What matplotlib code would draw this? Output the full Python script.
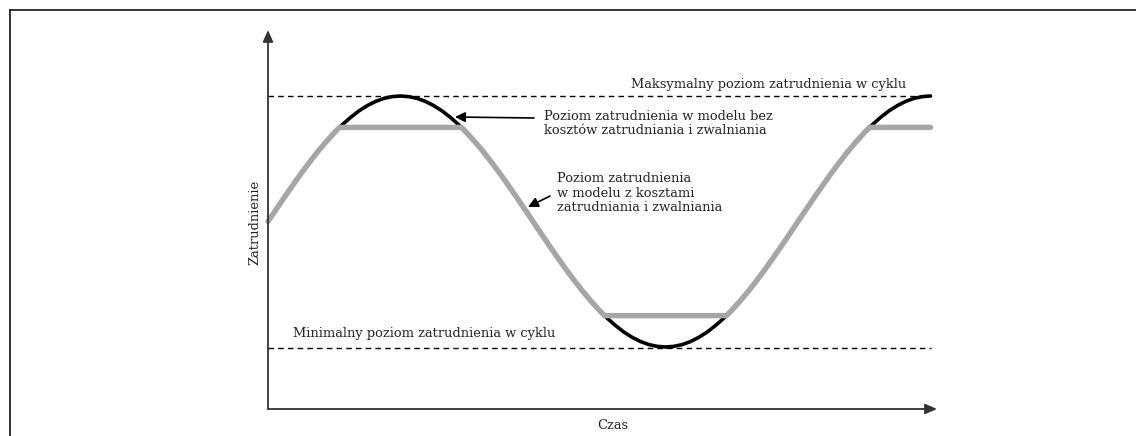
import matplotlib.pyplot as plt
from matplotlib.lines import Line2D

# faza w krokach 1/64 okresu, poziom zatrudnienia (odczyt z wykresu)
black_x = list(range(81))
black_y = [0.0, 0.098, 0.195, 0.290, 0.383, 0.471, 0.556, 0.634, 0.707,
           0.773, 0.831, 0.882, 0.924, 0.957, 0.981, 0.995, 1.0,
           0.995, 0.981, 0.957, 0.924, 0.882, 0.831, 0.773, 0.707,
           0.634, 0.556, 0.471, 0.383, 0.290, 0.195, 0.098, 0.0,
           -0.098, -0.195, -0.290, -0.383, -0.471, -0.556, -0.634, -0.707,
           -0.773, -0.831, -0.882, -0.924, -0.957, -0.981, -0.995, -1.0,
           -0.995, -0.981, -0.957, -0.924, -0.882, -0.831, -0.773, -0.707,
           -0.634, -0.556, -0.471, -0.383, -0.290, -0.195, -0.098, 0.0,
           0.098, 0.195, 0.290, 0.383, 0.471, 0.556, 0.634, 0.707,
           0.773, 0.831, 0.882, 0.924, 0.957, 0.981, 0.995, 1.0]

# model z kosztami: ten sam cykl, ale spłaszczony na poziomie +-0.75
gray_x = [0, 1, 2, 3, 4, 5, 6, 7, 8, 8.64,
          23.36, 24, 25, 26, 27, 28, 29, 30, 31, 32, 33, 34, 35, 36, 37, 38, 39, 40, 40.64,
          55.36, 56, 57, 58, 59, 60, 61, 62, 63, 64, 65, 66, 67, 68, 69, 70, 71, 72, 72.64, 80]
gray_y = [0.0, 0.098, 0.195, 0.290, 0.383, 0.471, 0.556, 0.634, 0.707, 0.75,
          0.75, 0.707, 0.634, 0.556, 0.471, 0.383, 0.290, 0.195, 0.098, 0.0,
          -0.098, -0.195, -0.290, -0.383, -0.471, -0.556, -0.634, -0.707, -0.75,
          -0.75, -0.707, -0.634, -0.556, -0.471, -0.383, -0.290, -0.195, -0.098, 0.0,
          0.098, 0.195, 0.290, 0.383, 0.471, 0.556, 0.634, 0.707, 0.75, 0.75]

max_level = 1.0
min_level = -1.01

W, H = 1136, 436
fig = plt.figure(figsize=(W / 100, H / 100), dpi=100)
ax = fig.add_axes([0, 0, 1, 1])
ax.set_xlim(-268 / 8.28125, 868 / 8.28125)
ax.set_ylim((221.5 - 436) / 125.5, 221.5 / 125.5)
ax.axis('off')

def px(x, y):
    return (x / W, 1 - y / H)

plt.rcParams['font.family'] = 'DejaVu Serif'
fs = 9.4
tc = '#222222'

# osie
ax_arr = dict(arrowstyle='-|>,head_length=0.5,head_width=0.22', color='#333333', lw=1.3,
              mutation_scale=14, shrinkA=0, shrinkB=0)
ax.annotate('', xy=(0, 1.526), xytext=(0, -1.494), arrowprops=ax_arr)
ax.annotate('', xy=(80.78, -1.494), xytext=(0, -1.494), arrowprops=ax_arr)

# poziomy max / min
ax.plot([0, 80], [max_level, max_level], color='black', lw=1.0, dashes=(4, 3))
ax.plot([0, 80], [min_level, min_level], color='black', lw=1.0, dashes=(4, 3))

ax.plot(black_x, black_y, color='black', lw=2.6, solid_capstyle='round')
ax.plot(gray_x, gray_y, color='#a6a6a6', lw=3.9, solid_capstyle='round', solid_joinstyle='miter')

fig.text(*px(631, 88), 'Maksymalny poziom zatrudnienia w cyklu', fontsize=fs, color=tc, va='baseline')
fig.text(*px(293, 337), 'Minimalny poziom zatrudnienia w cyklu', fontsize=fs, color=tc, va='baseline')
fig.text(*px(544, 134), 'Poziom zatrudnienia w modelu bez\nkosztów zatrudniania i zwalniania',
         fontsize=fs, color=tc, va='baseline', linespacing=1.13)
fig.text(*px(557, 211), 'Poziom zatrudnienia\nw modelu z kosztami\nzatrudniania i zwalniania',
         fontsize=fs, color=tc, va='baseline', linespacing=1.13)
fig.text(*px(613, 429), 'Czas', fontsize=fs, color=tc, ha='center', va='baseline')
fig.text(*px(255, 222), 'Zatrudnienie', fontsize=fs, color=tc, ha='center', va='center', rotation=90)

arr = dict(arrowstyle='-|>,head_length=0.5,head_width=0.25', color='black', lw=1.2,
           mutation_scale=12, shrinkA=0, shrinkB=0)
ax.annotate('', xy=px(455, 117), xytext=px(534, 118), xycoords='figure fraction',
            textcoords='figure fraction', arrowprops=arr)
ax.annotate('', xy=px(528, 207), xytext=px(550, 196), xycoords='figure fraction',
            textcoords='figure fraction', arrowprops=arr)

# ramka
fig.add_artist(Line2D([px(10, 0)[0], px(10, 0)[0]], [px(0, 10)[1], 0], color='#222222', lw=1.3,
                      transform=fig.transFigure))
fig.add_artist(Line2D([px(10, 0)[0], 1], [px(0, 10)[1], px(0, 10)[1]], color='#222222', lw=1.3,
                      transform=fig.transFigure))

fig.savefig('out.png', dpi=100)
